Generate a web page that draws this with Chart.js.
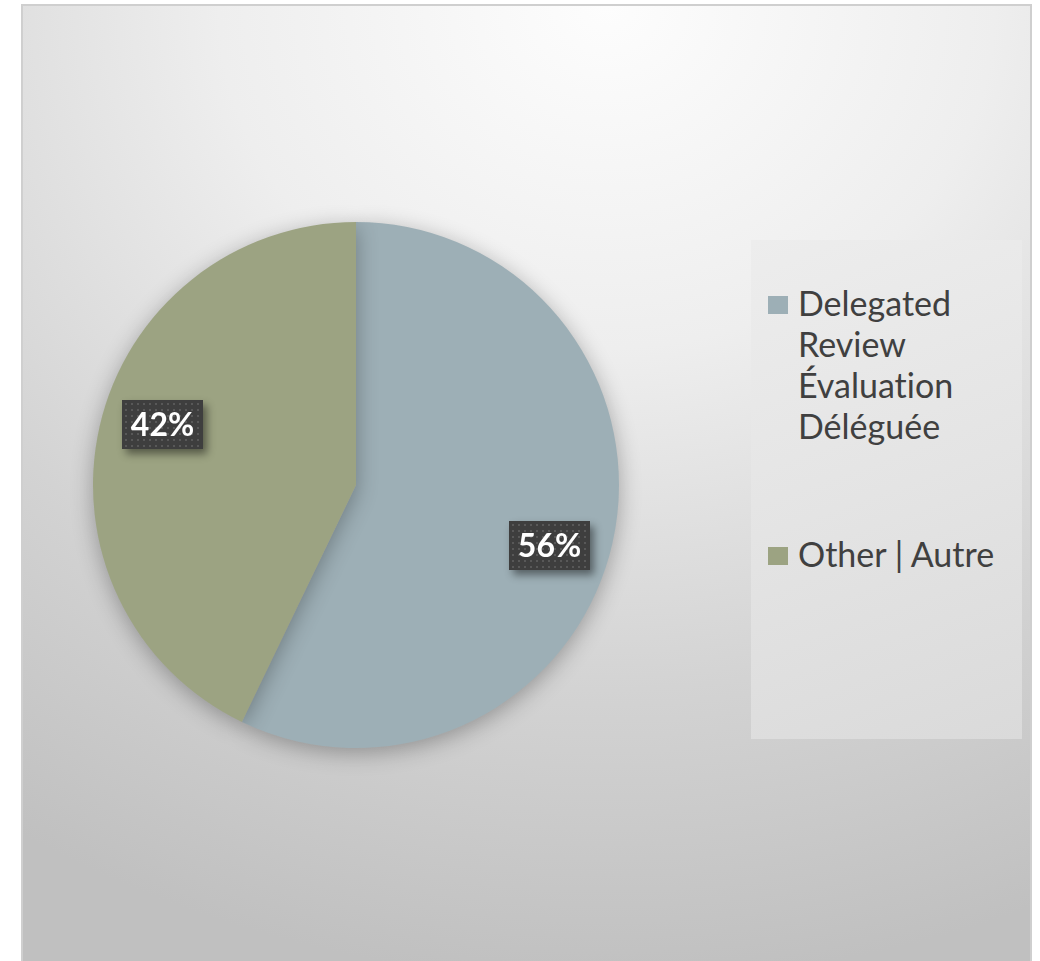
<!DOCTYPE html>
<html>
<head>
<meta charset="utf-8">
<script src="https://cdn.jsdelivr.net/npm/chart.js@4.4.1/dist/chart.umd.min.js"></script>
<style>
  html, body { margin: 0; padding: 0; background: #ffffff; }
  body { width: 1040px; height: 961px; position: relative; overflow: hidden; font-family: Lato, "Open Sans", sans-serif; }
  #frame {
    position: absolute; left: 21px; top: 4px; width: 1011px; height: 980px;
    border: 2px solid #cfcfcf; box-sizing: border-box;
    background: radial-gradient(ellipse 110% 100% at 58% 0%, #fdfdfd 0%, #eeeeee 35%, #d3d3d3 70%, #c0c0c0 100%);
  }
  #pieWrap { position: absolute; left: 53px; top: 182px; width: 606px; height: 606px; }
  #legend {
    position: absolute; left: 751px; top: 240px; width: 271px; height: 499px;
    background: linear-gradient(160deg, #ededed 0%, #e4e4e4 50%, #dadada 100%);
    box-sizing: border-box; padding: 42px 0 0 17px;
  }
  .item { display: flex; align-items: flex-start; color: #404040; font-size: 34px; line-height: 41px; font-variant-ligatures: none; }
  .item + .item { margin-top: 87px; }
  .swatch { width: 20px; height: 18px; margin: 14px 10px 0 0; flex: none; }
</style>
</head>
<body>
<div id="frame"></div>
<div id="pieWrap"><canvas id="pie"></canvas></div>
<div id="legend"></div>
<script>
// data
const categories = [
  ['Delegated', 'Review', 'Évaluation', 'Déléguée'],
  ['Other | Autre']
];
const shares = [56, 42];
const sliceColors = ['#9dafb6', '#9ca382'];

// soft shadow under the pie
const pieShadow = {
  id: 'pieShadow',
  beforeDatasetsDraw(chart) {
    const ctx = chart.ctx;
    ctx.save();
    ctx.shadowColor = 'rgba(0,0,0,0.3)';
    ctx.shadowBlur = 22;
    ctx.shadowOffsetY = 5;
  },
  afterDatasetsDraw(chart) {
    chart.ctx.restore();
  }
};

// dark dotted label boxes with percent text
const boxLabels = {
  id: 'boxLabels',
  afterDatasetsDraw(chart) {
    const ctx = chart.ctx;
    const meta = chart.getDatasetMeta(0);
    meta.data.forEach((arc, i) => {
      const p = arc.getProps(['x', 'y', 'startAngle', 'endAngle', 'outerRadius'], true);
      // labels sit a little clockwise of the slice middle
      const mid = (p.startAngle + p.endAngle) / 2 + 4.5 * Math.PI / 180;
      const r = p.outerRadius * 0.77;
      const cx = p.x + Math.cos(mid) * r;
      const cy = p.y + Math.sin(mid) * r;
      const w = 81, h = 49;
      const x0 = Math.round(cx - w / 2), y0 = Math.round(cy - h / 2);
      ctx.save();
      ctx.shadowColor = 'rgba(0,0,0,0.45)';
      ctx.shadowBlur = 8;
      ctx.shadowOffsetX = 4;
      ctx.shadowOffsetY = 5;
      ctx.fillStyle = '#3e3e3e';
      ctx.fillRect(x0, y0, w, h);
      ctx.restore();
      ctx.save();
      ctx.fillStyle = '#585858';
      for (let yy = y0 + 3; yy < y0 + h - 1; yy += 6) {
        for (let xx = x0 + 3; xx < x0 + w - 1; xx += 6) {
          ctx.fillRect(xx, yy, 2, 2);
        }
      }
      ctx.fillStyle = '#ffffff';
      ctx.font = 'bold 32px Lato, "Open Sans", sans-serif';
      ctx.textAlign = 'center';
      ctx.textBaseline = 'middle';
      ctx.fillText(shares[i] + '%', x0 + w / 2, y0 + h / 2 + 1);
      ctx.restore();
    });
  }
};

const chart = new Chart(document.getElementById('pie'), {
  type: 'pie',
  data: {
    labels: categories,
    datasets: [{
      data: shares,
      backgroundColor: sliceColors,
      borderWidth: 0
    }]
  },
  options: {
    responsive: true,
    maintainAspectRatio: false,
    animation: false,
    layout: { padding: 40 },
    plugins: {
      legend: { display: false },
      tooltip: { enabled: false }
    }
  },
  plugins: [pieShadow, boxLabels]
});

// html legend built from the chart data
const legendEl = document.getElementById('legend');
chart.data.labels.forEach((lab, i) => {
  const item = document.createElement('div');
  item.className = 'item';
  const sw = document.createElement('span');
  sw.className = 'swatch';
  sw.style.background = sliceColors[i];
  const txt = document.createElement('span');
  txt.innerHTML = (Array.isArray(lab) ? lab : [lab]).join('<br>');
  item.appendChild(sw);
  item.appendChild(txt);
  legendEl.appendChild(item);
});
</script>
</body>
</html>
